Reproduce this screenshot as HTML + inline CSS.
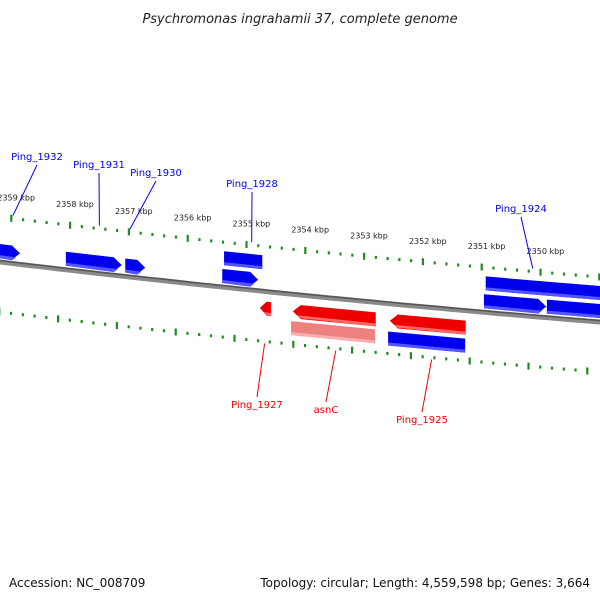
<!DOCTYPE html>
<html><head><meta charset="utf-8"><style>
body{margin:0;background:#fff}
svg{display:block;font-family:"DejaVu Sans","Liberation Sans",sans-serif}
</style></head><body>
<svg id="map" width="600" height="600" viewBox="0 0 600 600" xmlns="http://www.w3.org/2000/svg">
<text x="300" y="23" text-anchor="middle" font-size="13" font-style="italic" fill="#222">Psychromonas ingrahamii 37, complete genome</text>
<text x="9" y="587" font-size="12" fill="#111">Accession: NC_008709</text>
<text x="590" y="587" text-anchor="end" font-size="12" fill="#111">Topology: circular; Length: 4,559,598 bp; Genes: 3,664</text>
<g id="layer"></g>
</svg>
<script>
const tickKbp=[2359,2358,2357,2356,2355,2354,2353,2352,2351,2350,2349];
const tickLabels=["2359 kbp","2358 kbp","2357 kbp","2356 kbp","2355 kbp","2354 kbp","2353 kbp","2352 kbp","2351 kbp","2350 kbp","2349 kbp"];
const geneNames=["g0","Ping_1931","Ping_1930","Ping_1928a","Ping_1928","Ping_1924a","Ping_1924b","Ping_1924","Ping_1924c","Ping_1927","asnC","asnC-rna","Ping_1925","Ping_1925b"];
const geneStart=[2359.30,2358.07,2357.06,2355.38,2355.41,2350.93,2349.87,2350.96,2349.89,2354.77,2354.21,2354.24,2352.56,2352.59];
const geneEnd=[2358.85,2357.12,2356.72,2354.73,2354.80,2349.87,2348.90,2349.90,2348.90,2354.58,2352.80,2352.81,2351.27,2351.28];
const geneRow=[-11,-11,-11,-29,-11,-29,-29,-11,-11,17,17,34,17,35];
const geneArrow=[1,1,1,0,1,0,0,1,0,-1,-1,0,-1,0];
const geneColor=["blue","blue","blue","blue","blue","blue","blue","blue","blue","red","red","pink","red","blue"];
const labelText=["Ping_1932","Ping_1931","Ping_1930","Ping_1928","Ping_1924","Ping_1927","asnC","Ping_1925"];
const labelKbp=[2358.97,2357.5,2356.98,2354.91,2350.13,2354.69,2353.48,2351.85];
const labelOff=[-48,-48,-48,-48,-48,52,52,52];
const labelTextPos=[[37,160],[99,168],[156,176],[252,187],[521,212],[257,408],[326,413],[422,423]];
const labelSide=[1,1,1,1,1,-1,-1,-1];

const NS="http://www.w3.org/2000/svg";
const L=document.getElementById('layer');
function X(k){return 70+(2358-k)*58.8;}
function Y(x){return 262+0.12*x-3.333e-5*x*x;}
function mk(t,a,p){const e=document.createElementNS(NS,t);for(const k in a)e.setAttribute(k,a[k]);(p||L).appendChild(e);return e;}
// backbone
let d="";for(let x=-10;x<=610;x+=10)d+=(x==-10?"M":"L")+x+","+Y(x).toFixed(1);
let bb=mk('path',{d:d,fill:"none",stroke:"#8a8a8a","stroke-width":5});

let bb2=mk('path',{d:d,fill:"none",stroke:"#555","stroke-width":1.5,transform:"translate(0,-1.5)"});

// ticks
const kMin=Math.min(...tickKbp),kMax=Math.max(...tickKbp);
for(let i=0;i<=(kMax-kMin)*5;i++){
  const k=kMax-i*0.2;const major=i%5==0;
  [[-45,0],[50,-12]].forEach(([off,sh])=>{
    const x=X(k)+sh;if(x<-5||x>605)return;
    const y=Y(x)+off;const h=major?7:3;
    const r=mk('rect',{x:x-1,y:y-h/2,width:2.2,height:h,fill:"#1e8c1e"});
    
    
  });
}
tickKbp.forEach((k,i)=>{
  const x=X(k)+5;if(x<0||x>600)return;
  const t=mk('text',{x:x,y:Y(X(k))-63,"text-anchor":"middle","font-size":8,fill:"#222"});
  t.textContent=tickLabels[i];
  
  
});
// genes
const cols={blue:["#0000ee","#5555ff"],red:["#ee0000","#ff6666"],pink:["#ee8080","#f8b0b0"]};
geneNames.forEach((n,i)=>{
  const x1=X(geneStart[i]),x2=X(geneEnd[i]),o=geneRow[i],h=14,a=geneArrow[i];
  const aw=Math.min(8,(x2-x1)*0.6);
  const top=x=>Y(x)+o-h/2,bot=x=>Y(x)+o+h/2,mid=x=>Y(x)+o;
  let pts;
  if(a==1)pts=[[x1,top(x1)],[x2-aw,top(x2-aw)],[x2,mid(x2)],[x2-aw,bot(x2-aw)],[x1,bot(x1)]];
  else if(a==-1)pts=[[x1,mid(x1)],[x1+aw,top(x1+aw)],[x2,top(x2)],[x2,bot(x2)],[x1+aw,bot(x1+aw)]];
  else pts=[[x1,top(x1)],[x2,top(x2)],[x2,bot(x2)],[x1,bot(x1)]];
  const g=mk('g',{});
  
  
  mk('polygon',{points:pts.map(p=>p.join(",")).join(" "),fill:cols[geneColor[i]][0]},g);
  mk('polygon',{points:[[x1+(a==-1?aw/2:0),bot(x1)-3],[x2-(a==1?aw/2:0),bot(x2)-3],[x2-(a==1?aw:0),bot(x2)],[x1+(a==-1?aw:0),bot(x1)]].map(p=>p.join(",")).join(" "),fill:cols[geneColor[i]][1]},g);
});
// labels
labelText.forEach((s,i)=>{
  const x=X(labelKbp[i]),y=Y(x)+labelOff[i];
  const [tx,ty]=labelTextPos[i];const c=labelSide[i]==1?"#0000ee":"#ee0000";
  const ln=mk('line',{x1:x,y1:y,x2:tx,y2:labelSide[i]==1?ty+5:ty-11,stroke:c,"stroke-width":1});
  
  
  const t=mk('text',{x:tx,y:ty,"text-anchor":"middle","font-size":10,fill:c});
  t.textContent=s;
  
  
});
</script>
</body></html>
